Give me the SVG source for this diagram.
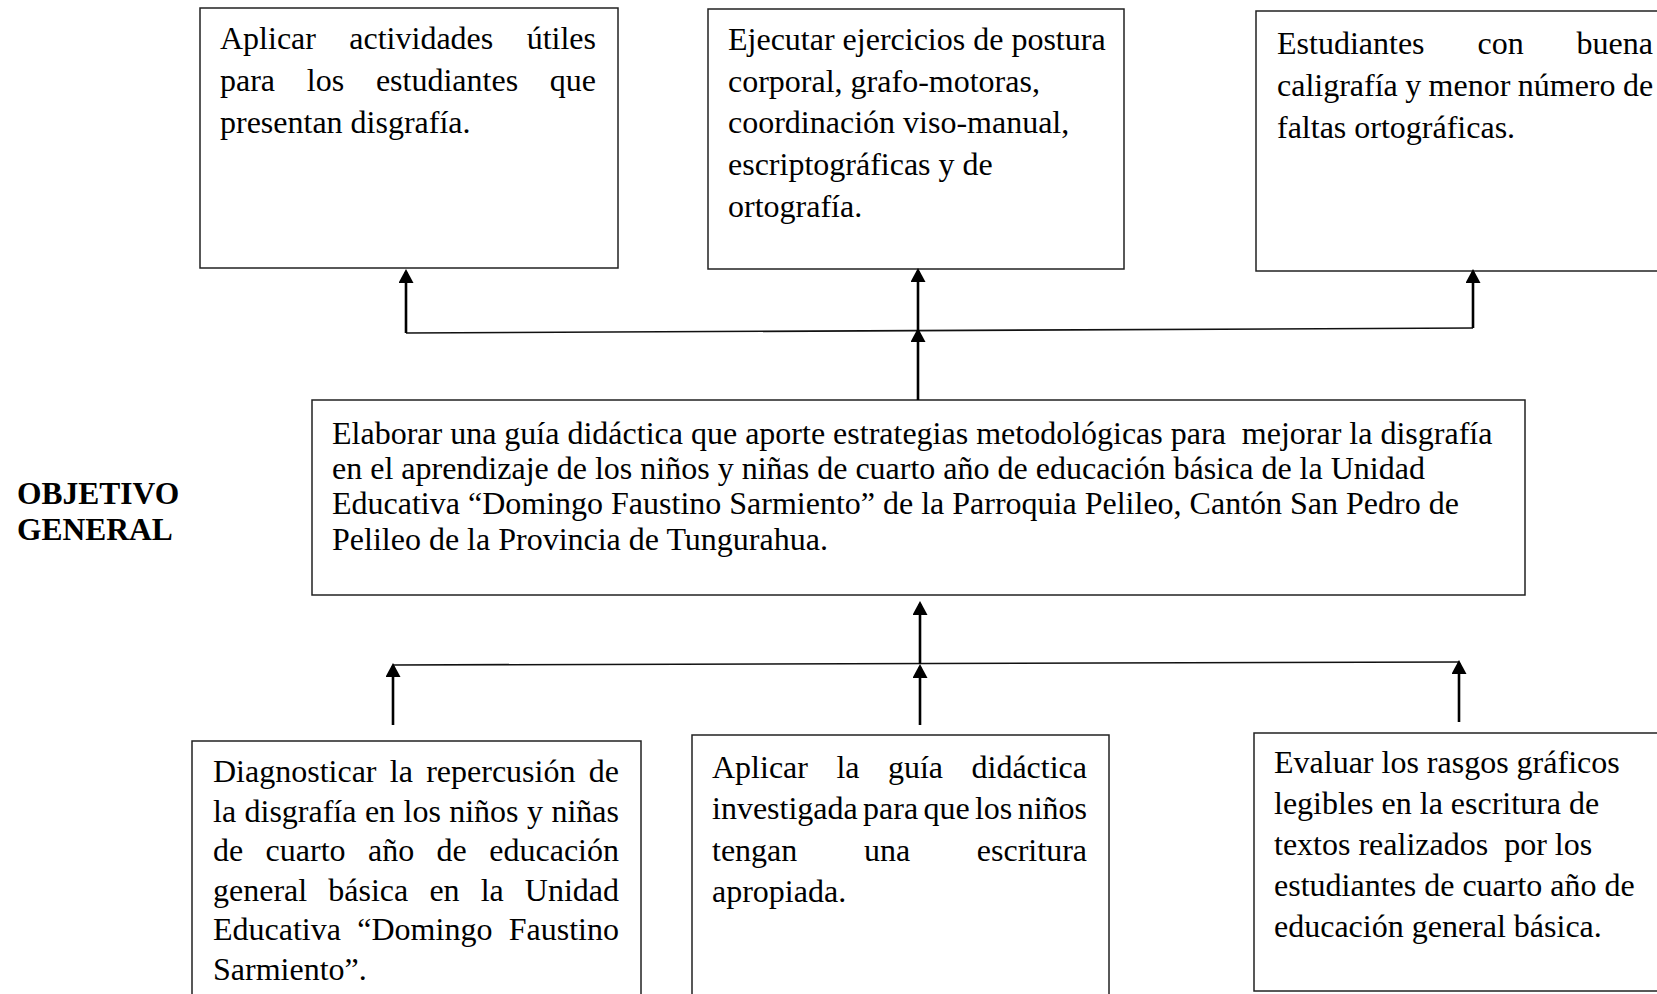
<svg xmlns="http://www.w3.org/2000/svg" width="1657" height="994" viewBox="0 0 1657 994">
  <style>
    .box { fill: #ffffff; stroke: #222222; stroke-width: 1.5; }
    .t { font-family: "Liberation Serif", "Times New Roman", serif; font-size: 32px; fill: #000000; }
    .e { text-anchor: end; }
    .lbl { font-family: "Liberation Serif", "Times New Roman", serif; font-size: 31.5px; font-weight: bold; fill: #000000; }
    .shaft { stroke: #000000; stroke-width: 2.6; fill: none; }
    .bar { stroke: #111111; stroke-width: 1.6; fill: none; }
  </style>
  <defs>
    <marker id="ah" markerUnits="userSpaceOnUse" viewBox="0 0 14 15" markerWidth="14" markerHeight="15" refX="11" refY="7.5" orient="auto">
      <path d="M0,0 L14,7.5 L0,15 z" fill="#000000"/>
    </marker>
  </defs>
  <rect width="1657" height="994" fill="#ffffff"/>

  <g id="label-objetivo">
    <text class="lbl" x="17" y="504">OBJETIVO</text>
    <text class="lbl" x="17" y="540">GENERAL</text>
  </g>

  <g id="node-actividades">
    <rect class="box" x="200" y="8" width="418" height="260"/>
    <text class="t" y="49"><tspan x="220">Aplicar</tspan><tspan x="349.3">actividades</tspan></text>
    <text class="t e" x="596" y="49">útiles</text>
    <text class="t" y="91"><tspan x="220">para</tspan><tspan x="306.8">los</tspan><tspan x="375.9">estudiantes</tspan></text>
    <text class="t e" x="596" y="91">que</text>
    <text class="t" x="220" y="133">presentan disgrafía.</text>
  </g>

  <g id="node-ejercicios">
    <rect class="box" x="708" y="9" width="416" height="260"/>
    <text class="t" x="728" y="49.5">Ejecutar ejercicios de postura</text>
    <text class="t" x="728" y="91.5">corporal, grafo-motoras,</text>
    <text class="t" x="728" y="133">coordinación viso-manual,</text>
    <text class="t" x="728" y="175">escriptográficas y de</text>
    <text class="t" x="728" y="216.5">ortografía.</text>
  </g>

  <g id="node-estudiantes">
    <rect class="box" x="1256" y="11" width="430" height="260"/>
    <text class="t" y="54"><tspan x="1277">Estudiantes</tspan><tspan x="1477.5">con</tspan></text>
    <text class="t e" x="1653" y="54">buena</text>
    <text class="t" x="1277" y="96" word-spacing="-0.6">caligrafía y menor número de</text>
    <text class="t" x="1277" y="138">faltas ortográficas.</text>
  </g>

  <g id="node-objetivo-general">
    <rect class="box" x="312" y="400" width="1213" height="195"/>
    <text class="t" x="332" y="443.5" xml:space="preserve">Elaborar una guía didáctica que aporte estrategias metodológicas para  mejorar la disgrafía</text>
    <text class="t" x="332" y="478.5">en el aprendizaje de los niños y niñas de cuarto año de educación básica de la Unidad</text>
    <text class="t" x="332" y="514">Educativa “Domingo Faustino Sarmiento” de la Parroquia Pelileo, Cantón San Pedro de</text>
    <text class="t" x="332" y="549.5">Pelileo de la Provincia de Tungurahua.</text>
  </g>

  <g id="node-diagnosticar">
    <rect class="box" x="192" y="741" width="449" height="280"/>
    <text class="t" y="782"><tspan x="213">Diagnosticar</tspan><tspan x="389.8">la</tspan><tspan x="426.2">repercusión</tspan></text>
    <text class="t e" x="619" y="782">de</text>
    <text class="t" y="821.6"><tspan x="213">la</tspan><tspan x="244.5">disgrafía</tspan><tspan x="364.9">en</tspan><tspan x="403.5">los</tspan><tspan x="449.2">niños</tspan><tspan x="527">y</tspan></text>
    <text class="t e" x="619" y="821.6">niñas</text>
    <text class="t" y="861.2"><tspan x="213">de</tspan><tspan x="265.6">cuarto</tspan><tspan x="368">año</tspan><tspan x="436.6">de</tspan></text>
    <text class="t e" x="619" y="861.2">educación</text>
    <text class="t" y="900.8"><tspan x="213">general</tspan><tspan x="328.3">básica</tspan><tspan x="429.4">en</tspan><tspan x="480.7">la</tspan></text>
    <text class="t e" x="619" y="900.8">Unidad</text>
    <text class="t" y="940.4"><tspan x="213">Educativa</tspan><tspan x="357.3">“Domingo</tspan></text>
    <text class="t e" x="619" y="940.4">Faustino</text>
    <text class="t" x="213" y="980">Sarmiento”.</text>
  </g>

  <g id="node-aplicar-guia">
    <rect class="box" x="692" y="735" width="417" height="280"/>
    <text class="t" y="777.5"><tspan x="712">Aplicar</tspan><tspan x="836.4">la</tspan><tspan x="887.9">guía</tspan></text>
    <text class="t e" x="1087" y="777.5">didáctica</text>
    <text class="t" y="819"><tspan x="712">investigada</tspan><tspan x="863.1">para</tspan><tspan x="923.4">que</tspan><tspan x="974.9">los</tspan></text>
    <text class="t e" x="1087" y="819">niños</text>
    <text class="t" y="860.5"><tspan x="712">tengan</tspan><tspan x="864">una</tspan></text>
    <text class="t e" x="1087" y="860.5">escritura</text>
    <text class="t" x="712" y="901.5">apropiada.</text>
  </g>

  <g id="node-evaluar">
    <rect class="box" x="1254" y="733" width="430" height="258"/>
    <text class="t" x="1274" y="773">Evaluar los rasgos gráficos</text>
    <text class="t" x="1274" y="814">legibles en la escritura de</text>
    <text class="t" x="1274" y="855" xml:space="preserve">textos realizados  por los</text>
    <text class="t" x="1274" y="895.5">estudiantes de cuarto año de</text>
    <text class="t" x="1274" y="936.5">educación general básica.</text>
  </g>

  <g id="connectors">
    <line class="bar" x1="406" y1="333" x2="1473" y2="328"/>
    <line class="shaft" x1="406" y1="333" x2="406" y2="272" marker-end="url(#ah)"/>
    <line class="shaft" x1="918" y1="331" x2="918" y2="271" marker-end="url(#ah)"/>
    <line class="shaft" x1="918" y1="400" x2="918" y2="331" marker-end="url(#ah)"/>
    <line class="shaft" x1="1473" y1="328" x2="1473" y2="272" marker-end="url(#ah)"/>

    <line class="bar" x1="393" y1="665" x2="1459" y2="662"/>
    <line class="shaft" x1="393" y1="725" x2="393" y2="666" marker-end="url(#ah)"/>
    <line class="shaft" x1="920" y1="725" x2="920" y2="667" marker-end="url(#ah)"/>
    <line class="shaft" x1="920" y1="664" x2="920" y2="604" marker-end="url(#ah)"/>
    <line class="shaft" x1="1459" y1="722" x2="1459" y2="663" marker-end="url(#ah)"/>
  </g>
</svg>
